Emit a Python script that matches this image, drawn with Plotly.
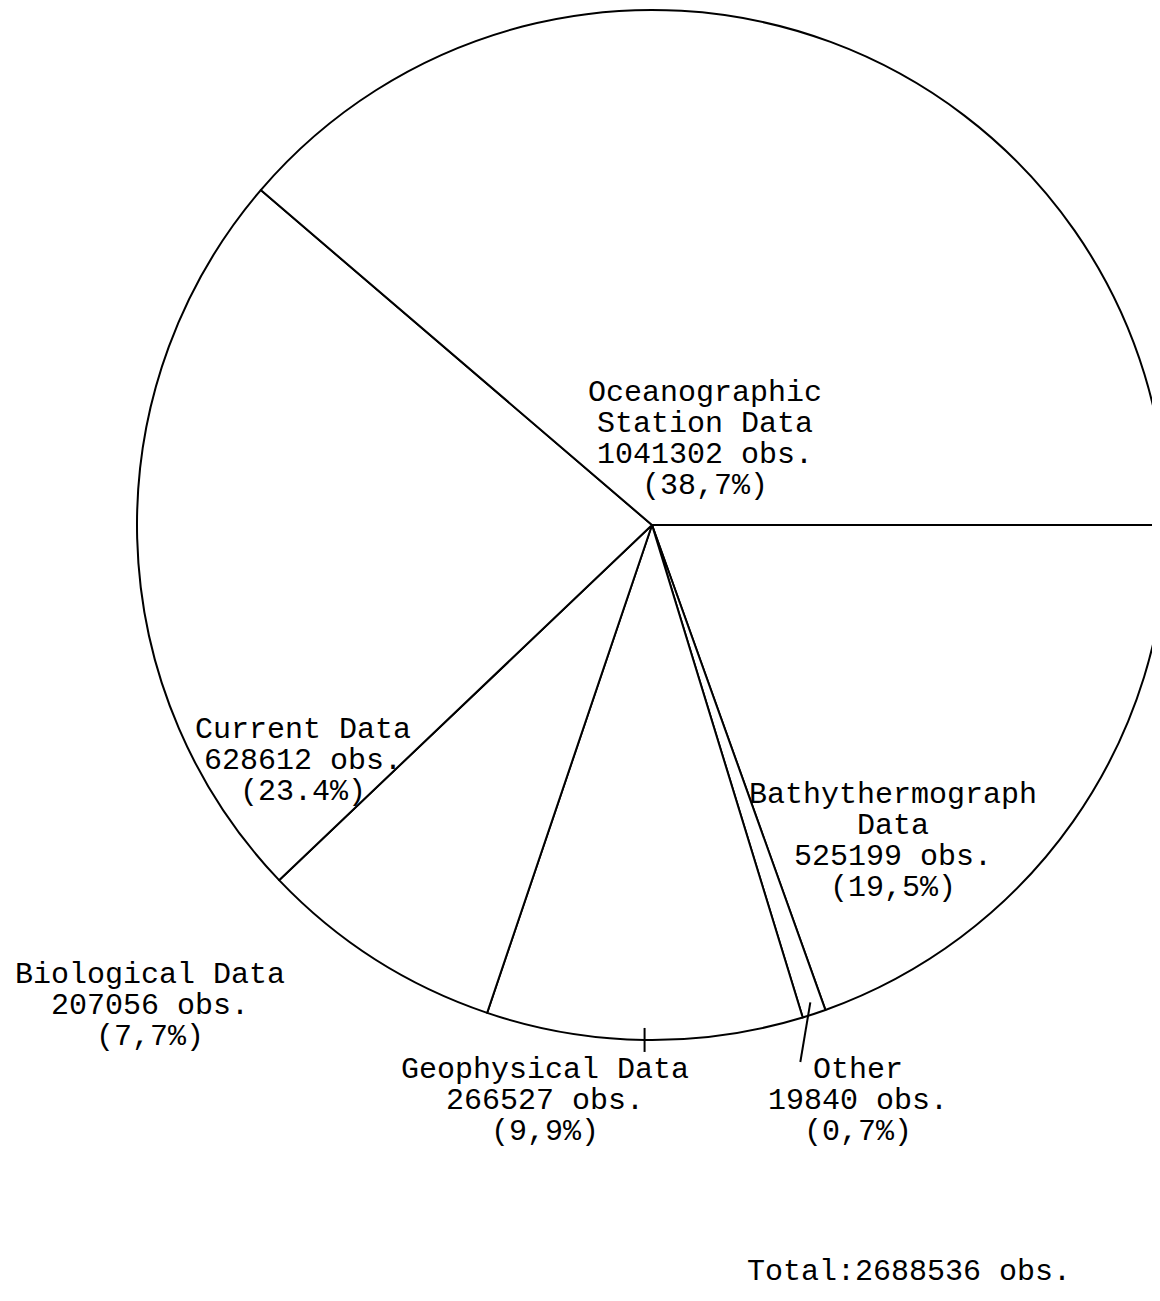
import math
import plotly.graph_objects as go

# ---- data ----
categories = ["Bathythermograph Data", "Other", "Geophysical Data",
              "Biological Data", "Current Data", "Oceanographic Station Data"]
observations = [525199, 19840, 266527, 207056, 628612, 1041302]
percent_labels = ["(19,5%)", "(0,7%)", "(9,9%)", "(7,7%)", "(23.4%)", "(38,7%)"]
total_obs = 2688536

W, H = 1160, 1301
OFF = 8  # page body margin offset
FONT = "Liberation Mono, DejaVu Sans Mono, monospace"
FS = 30

# pie geometry (pixels, figure coords)
pcx, pcy, pr = 652 - OFF, 525 - OFF, 515
dom_x = [(pcx - pr) / W, (pcx + pr) / W]
dom_y = [1 - (pcy + pr) / H, 1 - (pcy - pr) / H]
cx = (dom_x[0] + dom_x[1]) / 2 * W
cy = H - (dom_y[0] + dom_y[1]) / 2 * H
r = min((dom_x[1] - dom_x[0]) * W, (dom_y[1] - dom_y[0]) * H) / 2

fig = go.Figure(go.Pie(
    labels=categories,
    values=observations,
    sort=False,
    direction="clockwise",
    rotation=90,
    textinfo="none",
    hoverinfo="label+value+percent",
    marker=dict(colors=["white"] * len(categories),
                line=dict(color="black", width=2)),
    domain=dict(x=dom_x, y=dom_y),
    showlegend=False,
))

# label lines: (text lines, centre x px, first line y px) in screen coords
label_layout = [
    (["Bathythermograph", "Data", f"{observations[0]} obs.", percent_labels[0]], 893, 795),
    (["Other", f"{observations[1]} obs.", percent_labels[1]], 858, 1070),
    (["Geophysical Data", f"{observations[2]} obs.", percent_labels[2]], 545, 1070),
    (["Biological Data", f"{observations[3]} obs.", percent_labels[3]], 150, 975),
    (["Current Data", f"{observations[4]} obs.", percent_labels[4]], 303, 730),
    (["Oceanographic", "Station Data", f"{observations[5]} obs.", percent_labels[5]], 705, 393),
]
LS = 31
annotations = []
for lines, x, y0 in label_layout:
    for i, t in enumerate(lines):
        annotations.append(dict(
            x=(x - OFF) / W, y=1 - (y0 - OFF + i * LS) / H, xref="paper", yref="paper",
            text=t, showarrow=False, xanchor="center", yanchor="middle",
            font=dict(family=FONT, size=FS, color="black")))
annotations.append(dict(
    x=(909 - OFF) / W, y=1 - (1272 - OFF) / H, xref="paper", yref="paper",
    text=f"Total:{total_obs} obs.", showarrow=False,
    xanchor="center", yanchor="middle",
    font=dict(family=FONT, size=FS, color="black")))

# leader marks computed from slice mid-angles
tot = sum(observations)
cum = 0
mids = []
for v in observations:
    mids.append((cum + v / 2) / tot * 2 * math.pi)
    cum += v

def arc_pt(a, rr):
    return cx + rr * math.cos(a), cy + rr * math.sin(a)

shapes = []
# Other leader
x0, y0 = arc_pt(mids[1], r - 12)
shapes.append(dict(type="line", xref="paper", yref="paper",
                   x0=x0 / W, y0=1 - y0 / H, x1=(x0 - 10) / W, y1=1 - (1062 - OFF) / H,
                   line=dict(color="black", width=2)))
# Geophysical tick
gx, gy = arc_pt(mids[2], r)
shapes.append(dict(type="line", xref="paper", yref="paper",
                   x0=gx / W, y0=1 - (gy - 12) / H, x1=gx / W, y1=1 - (gy + 12) / H,
                   line=dict(color="black", width=2)))

fig.update_layout(
    width=W, height=H,
    margin=dict(l=0, r=0, t=0, b=0),
    paper_bgcolor="white", plot_bgcolor="white",
    annotations=annotations, shapes=shapes,
)
fig.write_html("out.html")
